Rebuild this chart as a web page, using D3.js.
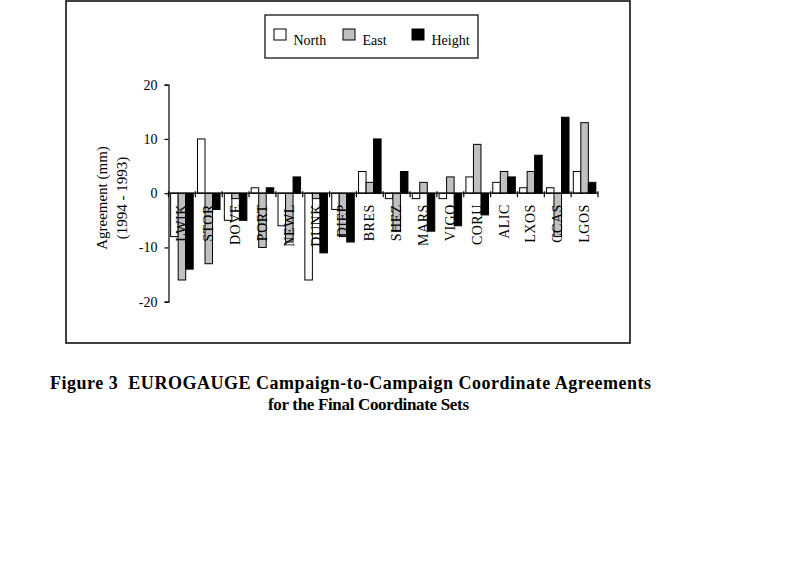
<!DOCTYPE html>
<html>
<head>
<meta charset="utf-8">
<script src="https://cdn.jsdelivr.net/npm/d3@7"></script>
<style>
  body { margin: 0; background: #fff; }
  svg { display: block; }
  text { font-family: 'Liberation Serif', 'Times New Roman', serif; fill: #000; }
</style>
</head>
<body>
<svg id="chart" width="800" height="562"></svg>
<script>
// station codes along the x axis
const stations = ['LWIK', 'STOR', 'DOVE', 'PORT', 'NEWL', 'DUNK', 'DIEP', 'BRES',
  'SHEZ', 'MARS', 'VIGO', 'CORU', 'ALIC', 'LXOS', 'CCAS', 'LGOS'];

// agreement values in mm (1994 - 1993)
const north  = [-8, 10, -5,   1, -6, -16, -3, 4, -1, -1, -1, 3, 2, 1,  1,  4];
const east   = [-16, -13, -1, -10, -9, -1, -8, 2, -7, 2, 3, 9, 4, 4, -8, 13];
const height = [-14, -3, -5,   1,  3, -11, -9, 10, 4, -7, -6, -4, 3, 7, 14, 2];

const yTicks = [-20, -10, 0, 10, 20];
const seriesNames = ['North', 'East', 'Height'];
const seriesColors = ['#ffffff', '#c0c0c0', '#000000'];

const svg = d3.select('#chart');

// outer chart frame
svg.append('rect')
  .attr('x', 66).attr('y', 1)
  .attr('width', 564).attr('height', 342)
  .attr('fill', 'none')
  .attr('stroke', '#000')
  .attr('stroke-width', 1.5);

const plot = { left: 168.5, right: 598, top: 84.7, bottom: 301.7 };

const x0 = d3.scaleBand()
  .domain(stations)
  .range([plot.left, plot.right])
  .paddingInner(0.16)
  .paddingOuter(0.08);

const x1 = d3.scaleBand()
  .domain(seriesNames)
  .range([0, x0.bandwidth()]);

const y = d3.scaleLinear()
  .domain([-20, 20])
  .range([plot.bottom, plot.top]);

const rows = stations.map((s, i) => ({
  station: s,
  values: [north[i], east[i], height[i]]
}));

// bars
const groups = svg.append('g')
  .selectAll('g')
  .data(rows)
  .enter()
  .append('g')
  .attr('transform', d => `translate(${x0(d.station)},0)`);

groups.selectAll('rect')
  .data(d => d.values.map((v, k) => ({ key: seriesNames[k], value: v, k })))
  .enter()
  .append('rect')
  .attr('x', d => x1(d.key))
  .attr('y', d => y(Math.max(0, d.value)))
  .attr('width', x1.bandwidth())
  .attr('height', d => Math.abs(y(d.value) - y(0)))
  .attr('fill', d => seriesColors[d.k])
  .attr('stroke', '#000')
  .attr('stroke-width', 1);

// y axis
const yAxis = svg.append('g')
  .attr('transform', `translate(${plot.left},0)`)
  .call(d3.axisLeft(y)
    .tickValues(yTicks)
    .tickSize(4)
    .tickPadding(7)
    .tickFormat(d => d < 0 ? '-' + Math.abs(d) : d));

yAxis.select('.domain').attr('stroke', '#000').attr('stroke-width', 1.2);
yAxis.selectAll('.tick line').attr('stroke', '#000').attr('stroke-width', 1.2);
yAxis.selectAll('text')
  .style('font-family', "'Liberation Serif', serif")
  .style('font-size', '14px');

// x axis at zero, ticks at category boundaries
const xAxisG = svg.append('g');
xAxisG.append('line')
  .attr('x1', plot.left).attr('x2', plot.right)
  .attr('y1', y(0)).attr('y2', y(0))
  .attr('stroke', '#000')
  .attr('stroke-width', 1.2);

const step = x0.step();
const boundaries = d3.range(stations.length + 1).map(i => plot.left + i * step);
xAxisG.selectAll('line.tick')
  .data(boundaries)
  .enter()
  .append('line')
  .attr('class', 'tick')
  .attr('x1', d => d).attr('x2', d => d)
  .attr('y1', y(0) - 2).attr('y2', y(0) + 4)
  .attr('stroke', '#000')
  .attr('stroke-width', 1.2);

// station labels, rotated, just below the zero line
xAxisG.selectAll('text')
  .data(stations)
  .enter()
  .append('text')
  .attr('transform', d => `translate(${x0(d) + x0.bandwidth() / 2 + 4.5},${y(0) + 11}) rotate(-90)`)
  .attr('text-anchor', 'end')
  .style('font-size', '14px')
  .style('letter-spacing', '0.5px')
  .text(d => d);

// y axis title
const yTitle = svg.append('g')
  .attr('transform', 'translate(0,198)');
yTitle.append('text')
  .attr('transform', 'translate(107,0) rotate(-90)')
  .attr('text-anchor', 'middle')
  .style('font-size', '15px')
  .text('Agreement (mm)');
yTitle.append('text')
  .attr('transform', 'translate(127,0) rotate(-90)')
  .attr('text-anchor', 'middle')
  .style('font-size', '15px')
  .text('(1994 - 1993)');

// legend
const legend = svg.append('g');
legend.append('rect')
  .attr('x', 265).attr('y', 15)
  .attr('width', 213).attr('height', 43)
  .attr('fill', '#fff')
  .attr('stroke', '#000')
  .attr('stroke-width', 1.2);

const legendX = [274, 343, 412];
seriesNames.forEach((name, k) => {
  legend.append('rect')
    .attr('x', legendX[k]).attr('y', 29)
    .attr('width', 12).attr('height', 11)
    .attr('fill', seriesColors[k])
    .attr('stroke', '#000')
    .attr('stroke-width', 1);
  legend.append('text')
    .attr('x', legendX[k] + 19.5).attr('y', 45)
    .style('font-size', '14px')
    .text(name);
});

// figure caption
const caption = svg.append('g')
  .style('font-weight', 'bold');
caption.append('text')
  .attr('x', 50).attr('y', 389)
  .attr('xml:space', 'preserve')
  .style('font-size', '18px')
  .attr('textLength', 601)
  .attr('lengthAdjust', 'spacing')
  .text('Figure 3  EUROGAUGE Campaign-to-Campaign Coordinate Agreements');
caption.append('text')
  .attr('x', 268).attr('y', 410)
  .style('font-size', '17px')
  .attr('textLength', 201)
  .attr('lengthAdjust', 'spacing')
  .text('for the Final Coordinate Sets');
</script>
</body>
</html>
